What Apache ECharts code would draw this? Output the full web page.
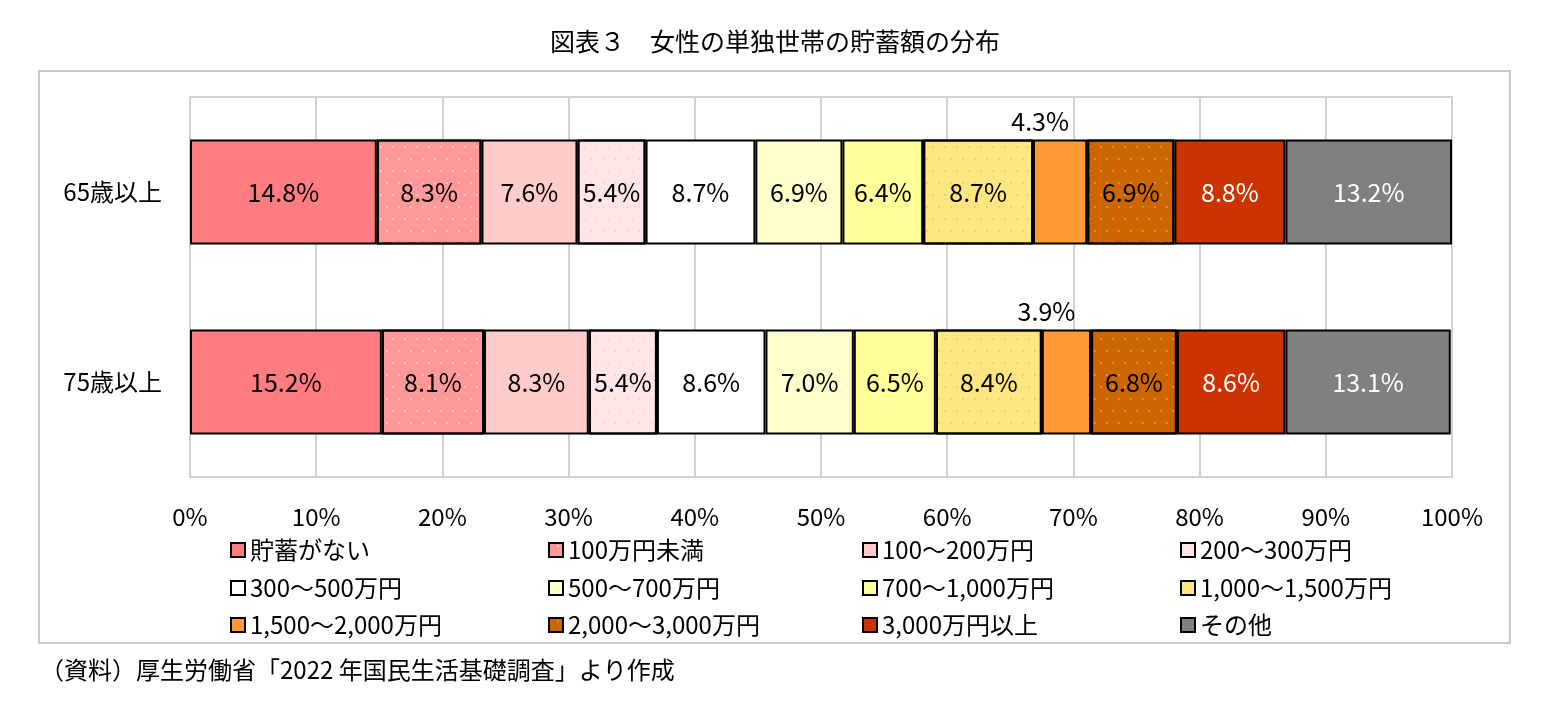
<!DOCTYPE html>
<html><head><meta charset="utf-8">
<script src="https://cdn.jsdelivr.net/npm/echarts@6/dist/echarts.min.js"></script>
<style>html,body{margin:0;background:#fff}#c{width:1550px;height:718px}</style>
</head><body><div id="c"></div>
<script>
const categories = ['65歳以上','75歳以上'];
const seriesNames = ['貯蓄がない','100万円未満','100～200万円','200～300万円','300～500万円','500～700万円','700～1,000万円','1,000～1,500万円','1,500～2,000万円','2,000～3,000万円','3,000万円以上','その他'];
const values65 = [14.8,8.3,7.6,5.4,8.7,6.9,6.4,8.7,4.3,6.9,8.8,13.2];
const values75 = [15.2,8.1,8.3,5.4,8.6,7.0,6.5,8.4,3.9,6.8,8.6,13.1];
const colors = ['#FF7C80','#FF9999','#FFCCCC','#FFE5E5','#FFFFFF','#FFFFCC','#FFFF99','#FFE680','#FF9933','#CC6600','#CC3300','#808080'];
const decals = {1:'#ffffff',3:'#ffb3b3',7:'#d9b84d',9:'#ffcc66'};
const F = 'Noto Sans CJK JP, sans-serif';
const series = seriesNames.map((n,i)=>{
  const s = {name:n,type:'bar',stack:'a',barWidth:105,
    data:[values65[i],values75[i]],
    itemStyle:{color:colors[i],borderColor:'#000',borderWidth:2},
    label:{show:true,position:'inside',formatter:p=>p.value.toFixed(1)+'%',fontSize:25,fontFamily:F,
      color:(i>=10)?'#fff':'#000'}};
  if(i===8){s.label.position='top';s.label.offset=[-20,0];}
  if(decals[i]!==undefined){
    s.itemStyle.decal={symbol:'circle',color:decals[i],symbolSize:0.25,dashArrayX:[[6,6],[0,6,6,0]],dashArrayY:[6,6],rotation:0};}
  return s;
});
const colX = [230,548,862,1180], rowY = [538,576,613];
const legends = seriesNames.map((n,i)=>({data:[n],left:colX[i%4],top:rowY[Math.floor(i/4)],
  icon:'rect',itemWidth:14,itemHeight:14,itemGap:4,padding:0,selectedMode:false,
  textStyle:{fontSize:24,fontFamily:F,color:'#000'},itemStyle:{borderColor:'#000',borderWidth:2}}));
const chart = echarts.init(document.getElementById('c'));
chart.setOption({
  animation:false,
  title:{text:'図表３　女性の単独世帯の貯蓄額の分布',left:'center',top:24,textStyle:{fontFamily:F,fontSize:25,fontWeight:'normal',color:'#000'}},
  grid:{left:190,right:98,top:97,bottom:241,show:true,borderColor:'#d0d0d0',borderWidth:2},
  xAxis:{type:'value',min:0,max:100,interval:10,
    axisLabel:{formatter:v=>v+'%',fontSize:24,fontFamily:F,color:'#000',margin:28},
    splitLine:{lineStyle:{color:'#d0d0d0',width:2}},axisLine:{show:false},axisTick:{show:false}},
  yAxis:{type:'category',data:categories,inverse:true,
    axisLabel:{fontSize:24,fontFamily:F,color:'#000',margin:28},axisLine:{show:false},axisTick:{show:false}},
  legend:legends,
  series:series,
  graphic:[
    {type:'rect',shape:{x:39,y:71,width:1471,height:572},style:{fill:null,stroke:'#c8c8c8',lineWidth:2},z:-1},
    {type:'text',left:40,top:658,style:{text:'（資料）厚生労働省「2022 年国民生活基礎調査」より作成',fontSize:24,fontFamily:F,fill:'#000'}}
  ]
});
</script></body></html>
